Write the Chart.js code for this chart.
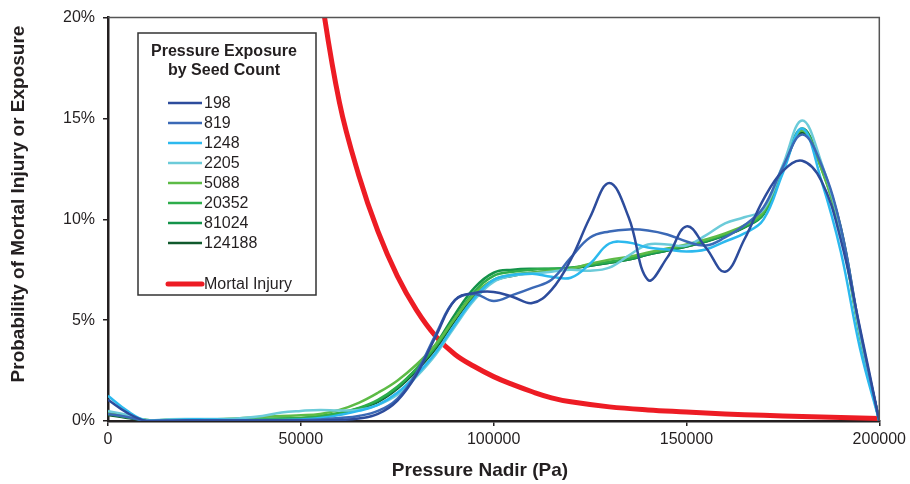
<!DOCTYPE html>
<html>
<head>
<meta charset="utf-8">
<script src="https://cdn.jsdelivr.net/npm/chart.js@4.4.0/dist/chart.umd.min.js"></script>
<style>
  body { margin: 0; background: #fff; }
  #wrap { width: 910px; height: 484px; }
</style>
</head>
<body>
<div id="wrap"><canvas id="pressure-chart" width="910" height="484"></canvas></div>
<script>
// pressure nadir (Pa) for the exposure curves
const pressure = [0, 5000, 10000, 15000, 20000, 25000, 30000, 35000, 40000, 45000,
    50000, 55000, 60000, 65000, 70000, 75000, 80000, 85000, 90000, 95000,
    100000, 105000, 110000, 115000, 120000, 125000, 130000, 135000, 140000, 145000,
    150000, 155000, 160000, 165000, 170000, 175000, 180000, 185000, 190000, 195000, 200000];

// exposure probability (%) by seed count
const seed198 = [1.05, 0.4, 0.0, 0.0, 0.02, 0.03, 0.02, 0.02, 0.02, 0.02, 0.02, 0.02, 0.05, 0.12, 0.35, 1.0, 2.3, 4.2, 6.0, 6.35, 6.4, 6.15, 5.85, 6.5, 8.0, 10.1, 11.8, 10.1, 7.0, 8.1, 9.65, 8.6, 7.4, 9.0, 11.0, 12.4, 12.9, 11.9, 9.0, 4.6, 0.0];
const seed819 = [0.35, 0.2, 0.0, 0.02, 0.03, 0.03, 0.03, 0.03, 0.03, 0.04, 0.05, 0.08, 0.15, 0.25, 0.5, 1.1, 2.4, 4.3, 6.0, 6.3, 5.95, 6.25, 6.6, 7.0, 8.1, 9.1, 9.4, 9.5, 9.45, 9.25, 8.9, 8.7, 9.1, 9.7, 10.6, 12.6, 14.2, 12.7, 9.6, 4.5, 0.0];
const seed1248 = [1.25, 0.5, 0.0, 0.03, 0.08, 0.08, 0.06, 0.05, 0.05, 0.05, 0.08, 0.15, 0.3, 0.5, 0.8, 1.4, 2.3, 3.4, 4.8, 6.1, 7.0, 7.25, 7.3, 7.15, 7.1, 7.8, 8.8, 8.85, 8.6, 8.5, 8.4, 8.5, 8.9, 9.3, 10.0, 12.3, 14.5, 11.9, 8.4, 3.6, 0.0];
const seed2205 = [0.5, 0.3, 0.05, 0.08, 0.1, 0.1, 0.1, 0.15, 0.25, 0.42, 0.5, 0.55, 0.52, 0.55, 0.8, 1.3, 2.2, 3.3, 4.7, 6.0, 6.9, 7.2, 7.3, 7.4, 7.5, 7.45, 7.6, 8.2, 8.75, 8.75, 8.7, 9.2, 9.8, 10.1, 10.5, 12.7, 14.9, 12.8, 9.5, 4.3, 0.0];
const seed5088 = [0.45, 0.25, 0.05, 0.05, 0.07, 0.08, 0.1, 0.15, 0.2, 0.25, 0.28, 0.35, 0.55, 0.9, 1.4, 2.0, 2.8, 3.8, 5.1, 6.3, 7.0, 7.25, 7.35, 7.45, 7.55, 7.8, 8.0, 8.15, 8.35, 8.55, 8.75, 9.0, 9.3, 9.7, 10.4, 12.6, 14.4, 12.5, 9.4, 4.2, 0.0];
const seed20352 = [0.4, 0.2, 0.05, 0.05, 0.06, 0.07, 0.07, 0.08, 0.1, 0.12, 0.15, 0.25, 0.4, 0.65, 1.05, 1.7, 2.6, 3.7, 5.1, 6.4, 7.2, 7.4, 7.5, 7.55, 7.6, 7.75, 7.9, 8.05, 8.3, 8.5, 8.7, 8.95, 9.25, 9.65, 10.3, 12.5, 14.4, 12.5, 9.4, 4.2, 0.0];
const seed81024 = [0.35, 0.18, 0.04, 0.04, 0.05, 0.06, 0.06, 0.07, 0.09, 0.11, 0.14, 0.22, 0.38, 0.62, 1.0, 1.65, 2.6, 3.8, 5.3, 6.6, 7.35, 7.5, 7.55, 7.55, 7.6, 7.7, 7.85, 8.0, 8.25, 8.45, 8.65, 8.9, 9.2, 9.6, 10.25, 12.5, 14.5, 12.6, 9.5, 4.3, 0.0];
const seed124188 = [0.3, 0.15, 0.03, 0.03, 0.04, 0.05, 0.05, 0.06, 0.08, 0.1, 0.13, 0.2, 0.35, 0.58, 0.95, 1.6, 2.5, 3.6, 5.0, 6.2, 6.95, 7.2, 7.35, 7.45, 7.55, 7.7, 7.85, 8.0, 8.25, 8.45, 8.65, 8.9, 9.2, 9.6, 10.3, 12.5, 14.3, 12.6, 9.6, 4.4, 0.0];

// mortal injury curve
const injuryPressure = [50000, 55000, 60000, 65000, 70000, 75000, 80000, 85000, 90000, 95000,
    100000, 105000, 110000, 115000, 120000, 130000, 140000, 150000, 160000, 170000, 180000, 190000, 200000];
const mortalInjury = [29, 21.5, 15.8, 12.2, 9.4, 7.2, 5.5, 4.2, 3.3, 2.7,
    2.2, 1.8, 1.45, 1.15, 0.95, 0.7, 0.55, 0.45, 0.35, 0.28, 0.22, 0.17, 0.13];

const seedLabels = ['198', '819', '1248', '2205', '5088', '20352', '81024', '124188'];
const seedSeries = [seed198, seed819, seed1248, seed2205, seed5088, seed20352, seed81024, seed124188];
const seedColors = ['#2d4c9c', '#3b69b6', '#2cb9ee', '#6ccbd9', '#5dbb46', '#2ead4b', '#14934a', '#10592d'];

const yTicks = [0, 5, 10, 15, 20];
const xTicks = [0, 50000, 100000, 150000, 200000];

const textColor = '#231f20';
const fontFamily = '"Liberation Sans", Arial, sans-serif';

function toPoints(xs, ys) {
    return xs.map((x, i) => ({ x: x, y: ys[i] }));
}

const datasets = seedSeries.map((vals, i) => ({
    label: seedLabels[i],
    data: toPoints(pressure, vals),
    borderColor: seedColors[i],
    borderWidth: 2.5,
    pointRadius: 0,
    tension: 0.4,
    fill: false
}));

datasets.push({
    label: 'Mortal Injury',
    data: toPoints(injuryPressure, mortalInjury),
    borderColor: '#ed1c24',
    borderWidth: 5,
    pointRadius: 0,
    tension: 0.4,
    fill: false
});

// legend box, axis titles and the top/right frame
const decorations = {
    id: 'decorations',
    afterDraw(chart) {
        const ctx = chart.ctx;
        const area = chart.chartArea;
        ctx.save();

        // top and right frame lines
        ctx.strokeStyle = '#555';
        ctx.lineWidth = 1.5;
        ctx.beginPath();
        ctx.moveTo(area.left, area.top);
        ctx.lineTo(area.right, area.top);
        ctx.lineTo(area.right, area.bottom);
        ctx.stroke();

        // axis titles
        ctx.fillStyle = textColor;
        ctx.font = 'bold 19px ' + fontFamily;
        ctx.textAlign = 'center';
        ctx.textBaseline = 'middle';
        ctx.fillText('Pressure Nadir (Pa)', 480, 471);
        ctx.save();
        ctx.translate(19, 204);
        ctx.rotate(-Math.PI / 2);
        ctx.fillText('Probability of Mortal Injury or Exposure', 0, 0);
        ctx.restore();

        // legend
        const box = { left: 138, top: 33, right: 316, bottom: 295 };
        ctx.fillStyle = '#fff';
        ctx.fillRect(box.left, box.top, box.right - box.left, box.bottom - box.top);
        ctx.strokeStyle = '#333';
        ctx.lineWidth = 1.5;
        ctx.strokeRect(box.left, box.top, box.right - box.left, box.bottom - box.top);

        ctx.fillStyle = textColor;
        ctx.font = 'bold 16px ' + fontFamily;
        ctx.textAlign = 'center';
        ctx.fillText('Pressure Exposure', 224, 52);
        ctx.fillText('by Seed Count', 224, 71);

        ctx.font = '16px ' + fontFamily;
        ctx.textAlign = 'left';
        chart.data.datasets.forEach((ds, i) => {
            const y = i < seedLabels.length ? 103 + i * 20 : 284;
            ctx.strokeStyle = ds.borderColor;
            ctx.lineWidth = ds.borderWidth;
            ctx.lineCap = i < seedLabels.length ? 'butt' : 'round';
            ctx.beginPath();
            ctx.moveTo(168, y);
            ctx.lineTo(202, y);
            ctx.stroke();
            ctx.fillStyle = textColor;
            ctx.fillText(ds.label, 204, y + 1);
        });
        ctx.restore();
    }
};

const chartCanvas = document.getElementById('pressure-chart');
const chartContext = chartCanvas.getContext('2d');

window.pressureChart = new Chart(chartContext, {
    type: 'line',
    data: { datasets: datasets },
    options: {
        responsive: false,
        animation: false,
        layout: { padding: { top: 15, right: 30, left: 0, bottom: 0 } },
        plugins: {
            legend: { display: false },
            tooltip: { enabled: false }
        },
        scales: {
            x: {
                type: 'linear',
                min: 0,
                max: 200000,
                afterFit(scale) { scale.height = 63; },
                afterBuildTicks(scale) { scale.ticks = xTicks.map(v => ({ value: v })); },
                ticks: {
                    color: textColor,
                    font: { family: fontFamily, size: 16 },
                    padding: 4,
                    maxRotation: 0,
                    callback: v => String(v)
                },
                grid: { drawOnChartArea: false, drawTicks: true, tickLength: 5, color: textColor, lineWidth: 1.5 },
                border: { color: textColor, width: 2.5 }
            },
            y: {
                min: 0,
                max: 20,
                afterFit(scale) { scale.width = 108; },
                afterBuildTicks(scale) { scale.ticks = yTicks.map(v => ({ value: v })); },
                ticks: {
                    color: textColor,
                    font: { family: fontFamily, size: 16 },
                    padding: 8,
                    callback: v => v + '%'
                },
                grid: { drawOnChartArea: false, drawTicks: true, tickLength: 5, color: textColor, lineWidth: 1.5 },
                border: { color: textColor, width: 2.5 }
            }
        }
    },
    plugins: [decorations]
});
</script>
</body>
</html>
